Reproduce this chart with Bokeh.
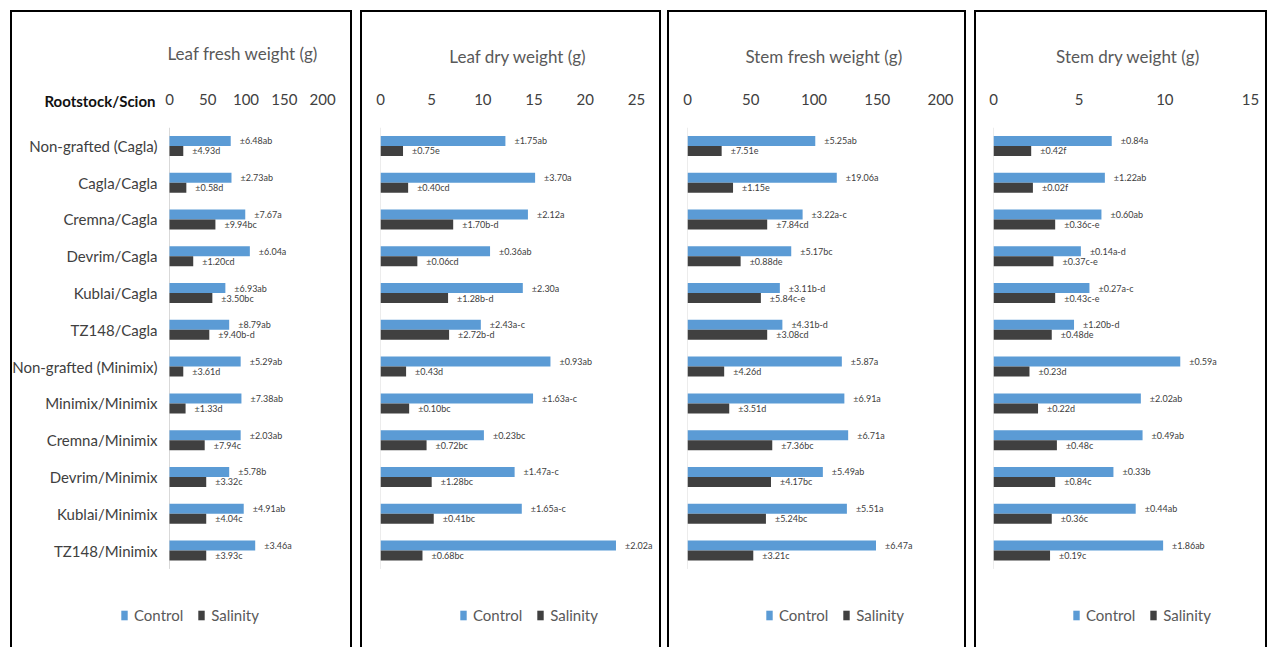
from bokeh.plotting import figure
from bokeh.models import (ColumnDataSource, FactorRange, FixedTicker, Label, Legend, LegendItem)
from bokeh.transform import dodge
from bokeh.layouts import row
from bokeh.core.properties import value
from bokeh.embed import file_html
from bokeh.resources import INLINE

categories = ["Non-grafted (Cagla)", "Cagla/Cagla", "Cremna/Cagla", "Devrim/Cagla",
              "Kublai/Cagla", "TZ148/Cagla", "Non-grafted (Minimix)", "Minimix/Minimix",
              "Cremna/Minimix", "Devrim/Minimix", "Kublai/Minimix", "TZ148/Minimix"]

titles = ["Leaf fresh weight (g)", "Leaf dry weight (g)", "Stem fresh weight (g)", "Stem dry weight (g)"]

leaf_fw_control = [80, 81, 99, 105, 73, 78, 93, 94, 93, 78, 97, 112]
leaf_fw_salinity = [18, 22, 60, 31, 56, 52, 18, 21, 46, 48, 48, 48]
leaf_fw_control_lbl = ["±6.48ab", "±2.73ab", "±7.67a", "±6.04a", "±6.93ab", "±8.79ab",
                       "±5.29ab", "±7.38ab", "±2.03ab", "±5.78b", "±4.91ab", "±3.46a"]
leaf_fw_salinity_lbl = ["±4.93d", "±0.58d", "±9.94bc", "±1.20cd", "±3.50bc", "±9.40b-d",
                        "±3.61d", "±1.33d", "±7.94c", "±3.32c", "±4.04c", "±3.93c"]

leaf_dw_control = [12.2, 15.1, 14.4, 10.7, 13.9, 9.8, 16.6, 14.9, 10.1, 13.1, 13.8, 23.0]
leaf_dw_salinity = [2.2, 2.7, 7.1, 3.6, 6.6, 6.7, 2.5, 2.8, 4.5, 5.0, 5.2, 4.1]
leaf_dw_control_lbl = ["±1.75ab", "±3.70a", "±2.12a", "±0.36ab", "±2.30a", "±2.43a-c",
                       "±0.93ab", "±1.63a-c", "±0.23bc", "±1.47a-c", "±1.65a-c", "±2.02a"]
leaf_dw_salinity_lbl = ["±0.75e", "±0.40cd", "±1.70b-d", "±0.06cd", "±1.28b-d", "±2.72b-d",
                        "±0.43d", "±0.10bc", "±0.72bc", "±1.28bc", "±0.41bc", "±0.68bc"]

stem_fw_control = [101, 118, 91, 82, 73, 75, 122, 124, 127, 107, 126, 149]
stem_fw_salinity = [27, 36, 63, 42, 58, 63, 29, 33, 67, 66, 62, 52]
stem_fw_control_lbl = ["±5.25ab", "±19.06a", "±3.22a-c", "±5.17bc", "±3.11b-d", "±4.31b-d",
                       "±5.87a", "±6.91a", "±6.71a", "±5.49ab", "±5.51a", "±6.47a"]
stem_fw_salinity_lbl = ["±7.51e", "±1.15e", "±7.84cd", "±0.88de", "±5.84c-e", "±3.08cd",
                        "±4.26d", "±3.51d", "±7.36bc", "±4.17bc", "±5.24bc", "±3.21c"]

stem_dw_control = [6.9, 6.5, 6.3, 5.1, 5.6, 4.7, 10.9, 8.6, 8.7, 7.0, 8.3, 9.9]
stem_dw_salinity = [2.2, 2.3, 3.6, 3.5, 3.6, 3.4, 2.1, 2.6, 3.7, 3.6, 3.4, 3.3]
stem_dw_control_lbl = ["±0.84a", "±1.22ab", "±0.60ab", "±0.14a-d", "±0.27a-c", "±1.20b-d",
                       "±0.59a", "±2.02ab", "±0.49ab", "±0.33b", "±0.44ab", "±1.86ab"]
stem_dw_salinity_lbl = ["±0.42f", "±0.02f", "±0.36c-e", "±0.37c-e", "±0.43c-e", "±0.48de",
                        "±0.23d", "±0.22d", "±0.48c", "±0.84c", "±0.36c", "±0.19c"]

ticks_list = [[0, 50, 100, 150, 200], [0, 5, 10, 15, 20, 25], [0, 50, 100, 150, 200], [0, 5, 10, 15]]

FONT = "Lato"
BLUE = "#5B9BD5"
DARK = "#404040"

# two empty slots under the last category leave room for the legend inside the frame
LEGEND_SLOTS = [" ", "  "]
FRAME_H = 515
TOP = 117
BOTTOM = 5


def make_panel(title, ctrl, sal, ctrl_lbl, sal_lbl, ticks, xstart, xend, left_b, frame_w, right_b,
               show_cats, margin_left, title_standoff, title_offset, legend_x):
    src = ColumnDataSource(dict(cat=categories, ctrl=ctrl, sal=sal,
                                ctrl_lbl=ctrl_lbl, sal_lbl=sal_lbl))
    p = figure(y_range=FactorRange(factors=LEGEND_SLOTS + list(reversed(categories))),
               x_range=(xstart, xend), x_axis_location="above",
               width=left_b + frame_w + right_b, height=TOP + FRAME_H + BOTTOM,
               min_border_left=left_b, min_border_right=right_b,
               min_border_top=TOP, min_border_bottom=BOTTOM,
               output_backend="svg", toolbar_location=None, title=title)
    p.margin = (10, 0, 0, margin_left)
    p.border_fill_color = None
    p.background_fill_color = None
    p.styles = {"box-shadow": "inset 2px 2px 0 0 #000000, inset -2px 0 0 0 #000000",
                "background-color": "#ffffff"}
    p.outline_line_color = None
    p.xgrid.visible = False
    p.ygrid.visible = False

    if title_offset is None:
        p.title.align = "center"
    else:
        p.title.align = "left"
        p.title.offset = title_offset
    p.title.text_font = FONT
    p.title.text_font_size = "17px"
    p.title.text_font_style = "normal"
    p.title.text_color = "#595959"
    p.title.standoff = title_standoff

    xa = p.xaxis[0]
    xa.ticker = FixedTicker(ticks=ticks)
    xa.axis_line_color = None
    xa.major_tick_line_color = None
    xa.minor_tick_line_color = None
    xa.major_label_text_font = FONT
    xa.major_label_text_font_size = "15px"
    xa.major_label_text_color = DARK
    xa.major_label_standoff = 17

    p.yaxis.visible = False
    if show_cats:
        p.text(x=0, y="cat", text="cat", source=src, x_offset=-12, text_align="right",
               text_baseline="middle", text_font=value(FONT), text_font_size="15px",
               text_color=DARK)
        p.add_layout(Label(x=145, y=-10, x_units="screen", y_units="screen",
                           text="Rootstock/Scion", text_align="right", text_baseline="middle",
                           text_font=FONT, text_font_size="15px",
                           text_font_style="bold", text_color="#111111"), "above")

    # light vertical line at zero spanning the category rows
    zsrc = ColumnDataSource(dict(x=[0], top=[categories[0]], bottom=[categories[-1]]))
    p.segment(x0="x", x1="x", y0=dodge("top", 0.5, range=p.y_range),
              y1=dodge("bottom", -0.5, range=p.y_range), source=zsrc,
              line_color="#d9d9d9", line_width=1)

    rc = p.hbar(y=dodge("cat", 0.136, range=p.y_range), right="ctrl", left=0, height=0.272,
                source=src, fill_color=BLUE, line_color=None)
    rs = p.hbar(y=dodge("cat", -0.136, range=p.y_range), right="sal", left=0, height=0.272,
                source=src, fill_color=DARK, line_color=None)

    p.text(x="ctrl", y=dodge("cat", 0.136, range=p.y_range), text="ctrl_lbl", source=src,
           x_offset=9, text_baseline="middle", text_font=value(FONT),
           text_font_size="9px", text_color=DARK)
    p.text(x="sal", y=dodge("cat", -0.136, range=p.y_range), text="sal_lbl", source=src,
           x_offset=9, text_baseline="middle", text_font=value(FONT),
           text_font_size="9px", text_color=DARK)

    legend = Legend(items=[LegendItem(label="Control", renderers=[rc]),
                           LegendItem(label="Salinity", renderers=[rs])],
                    orientation="horizontal", location=(legend_x, 17),
                    margin=0, padding=0, spacing=14, label_standoff=6,
                    glyph_width=8, glyph_height=12, label_height=20,
                    border_line_color=None, background_fill_alpha=0,
                    label_text_font=FONT, label_text_font_size="15px",
                    label_text_color="#595959")
    p.add_layout(legend, "center")
    return p


p1 = make_panel(titles[0], leaf_fw_control, leaf_fw_salinity, leaf_fw_control_lbl, leaf_fw_salinity_lbl,
                ticks_list[0], -207.8, 230, 0, 335, 7, True, 10, 17, 157, 110)
p2 = make_panel(titles[1], leaf_dw_control, leaf_dw_salinity, leaf_dw_control_lbl, leaf_dw_salinity_lbl,
                ticks_list[1], 0, 26.86, 20, 275, 6, False, 8, 48, None, 79)
p3 = make_panel(titles[2], stem_fw_control, stem_fw_salinity, stem_fw_control_lbl, stem_fw_salinity_lbl,
                ticks_list[2], 0, 215.8, 20, 273, 6, False, 6, 48, None, 78)
p4 = make_panel(titles[3], stem_dw_control, stem_dw_salinity, stem_dw_control_lbl, stem_dw_salinity_lbl,
                ticks_list[3], 0, 15.7, 19, 269, 5, False, 8, 48, None, 79)

layout = row(p1, p2, p3, p4, spacing=0)
open("out.html", "w").write(file_html(layout, INLINE))
